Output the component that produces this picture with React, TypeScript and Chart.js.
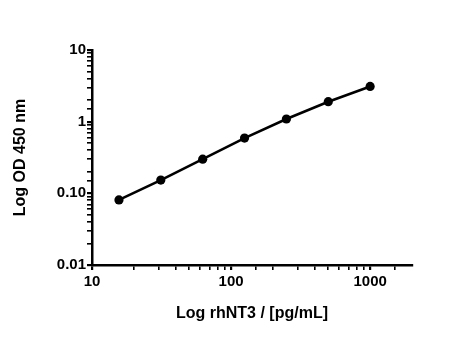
import React, { useEffect, useRef } from "react";
import { Chart, registerables } from "chart.js";

Chart.register(...registerables);

const concentrations = [15.625, 31.25, 62.5, 125, 250, 500, 1000];
const odValues = [0.081, 0.153, 0.3, 0.59, 1.09, 1.9, 3.1];
const yTickLabels: Record<string, string> = { "0.01": "0.01", "0.1": "0.10", "1": "1", "10": "10" };
const xTickLabels: Record<string, string> = { "10": "10", "100": "100", "1000": "1000" };
const xTitle = "Log rhNT3 / [pg/mL]";
const yTitle = "Log OD 450 nm";

const FONT = "'Liberation Sans', Arial, sans-serif";

export default function App() {
  const ref = useRef<HTMLCanvasElement | null>(null);
  useEffect(() => {
    if (!ref.current) return;
    const chart = new Chart(ref.current, {
      type: "line",
      data: {
        datasets: [
          {
            data: concentrations.map((c, i) => ({ x: c, y: odValues[i] })),
            borderColor: "#000",
            backgroundColor: "#000",
            borderWidth: 2.6,
            pointRadius: 4.6,
            pointBackgroundColor: "#000",
            pointBorderWidth: 0,
            tension: 0,
          },
        ],
      },
      options: {
        responsive: false,
        animation: false,
        layout: { padding: { left: 0, top: 50, right: 38, bottom: 0 } },
        plugins: { legend: { display: false }, tooltip: { enabled: false } },
        scales: {
          x: {
            type: "logarithmic",
            min: 10,
            max: 2000,
            afterFit: (s: any) => {
              s.height = 95;
            },
            border: { color: "#000", width: 2.5 },
            grid: {
              drawOnChartArea: false,
              drawTicks: true,
              tickLength: 5,
              color: (c: any) => (c.tick && c.tick.value >= 2000 ? "rgba(0,0,0,0)" : "#000"),
              lineWidth: (c: any) => (c.tick && c.tick.major ? 2.2 : 1.6),
            },
            ticks: {
              autoSkip: false,
              maxRotation: 0,
              padding: 3,
              color: "#000",
              font: { family: FONT, size: 15, weight: "bold" },
              callback: (v: any) => xTickLabels[String(v)] ?? "",
            },
            title: {
              display: true,
              text: xTitle,
              color: "#000",
              font: { family: FONT, size: 16, weight: "bold" },
              padding: { top: 0, bottom: 37 },
            },
          },
          y: {
            type: "logarithmic",
            min: 0.01,
            max: 10,
            afterFit: (s: any) => {
              s.width = 92;
            },
            border: { color: "#000", width: 2.5 },
            grid: {
              drawOnChartArea: false,
              drawTicks: true,
              tickLength: 5,
              color: "#000",
              lineWidth: (c: any) => (c.tick && c.tick.major ? 2.2 : 1.6),
            },
            ticks: {
              autoSkip: false,
              padding: 1,
              color: "#000",
              font: { family: FONT, size: 15, weight: "bold" },
              callback: (v: any) => yTickLabels[String(v)] ?? "",
            },
            title: {
              display: true,
              text: yTitle,
              color: "#000",
              font: { family: FONT, size: 16, weight: "bold" },
              padding: { top: 11, bottom: 0 },
            },
          },
        },
      },
    } as any);
    return () => chart.destroy();
  }, []);
  return (
    <canvas
      ref={ref}
      width={450}
      height={360}
      style={{ position: "absolute", left: 0, top: 0, display: "block", background: "#fff" }}
    />
  );
}
